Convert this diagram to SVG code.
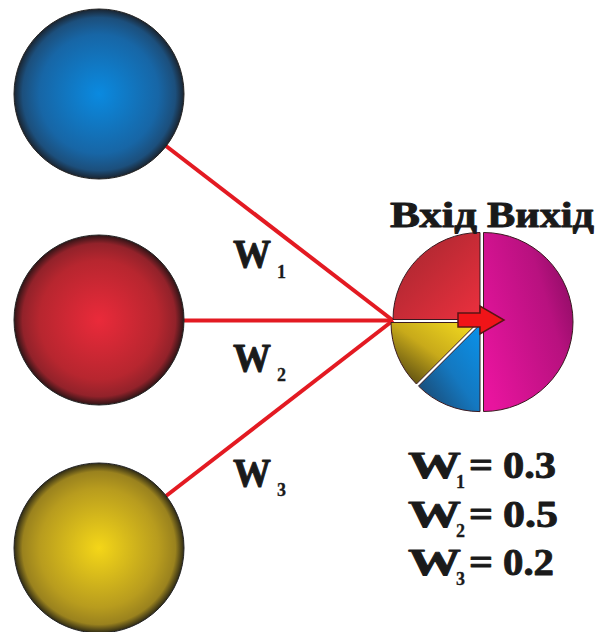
<svg xmlns="http://www.w3.org/2000/svg" width="597" height="632" viewBox="0 0 597 632">
<style>
.conn{stroke:#e31a22;stroke-width:4;fill:none;stroke-linecap:butt}
.ball{stroke:#222;stroke-width:1}
.seg{stroke:#3a1a20;stroke-width:1}
.t{font-family:"Liberation Serif","Times New Roman",serif;font-weight:bold;fill:#1a1a1a;stroke:#1a1a1a;stroke-width:0.9;stroke-linejoin:round}
.sub{font-family:"Liberation Serif","Times New Roman",serif;font-weight:bold;fill:#1a1a1a;font-size:18px;stroke:#1a1a1a;stroke-width:0.3}
</style>
<defs>
<radialGradient id="gBlue" cx="0.5" cy="0.5" r="0.5">
<stop offset="0" stop-color="#0a8ae0"/><stop offset="0.7" stop-color="#1766a6"/><stop offset="0.9" stop-color="#1c4f7c"/><stop offset="1" stop-color="#1a2430"/>
</radialGradient>
<radialGradient id="gRed" cx="0.5" cy="0.5" r="0.5">
<stop offset="0" stop-color="#ea2a3a"/><stop offset="0.7" stop-color="#b7262f"/><stop offset="0.9" stop-color="#92222a"/><stop offset="1" stop-color="#2e1416"/>
</radialGradient>
<radialGradient id="gYel" cx="0.5" cy="0.5" r="0.5">
<stop offset="0" stop-color="#f4d618"/><stop offset="0.7" stop-color="#b89c1e"/><stop offset="0.9" stop-color="#9a821e"/><stop offset="1" stop-color="#2e2a14"/>
</radialGradient>
<linearGradient id="pRed" x1="0" y1="0" x2="1" y2="1">
<stop offset="0" stop-color="#a0262e"/><stop offset="1" stop-color="#ec303e"/>
</linearGradient>
<linearGradient id="pMag" x1="0" y1="0.8" x2="1" y2="0.2">
<stop offset="0" stop-color="#e8149e"/><stop offset="0.7" stop-color="#b8117f"/><stop offset="1" stop-color="#8a0c62"/>
</linearGradient>
<linearGradient id="pYel" x1="1" y1="0" x2="0" y2="1">
<stop offset="0" stop-color="#f6de20"/><stop offset="0.5" stop-color="#c8aa1a"/><stop offset="1" stop-color="#3e3410"/>
</linearGradient>
<linearGradient id="pBlu" x1="1" y1="0" x2="0" y2="1">
<stop offset="0" stop-color="#0a92ea"/><stop offset="0.5" stop-color="#1478c0"/><stop offset="1" stop-color="#1c3f62"/>
</linearGradient>
</defs>

<g id="connectors">
<line class="conn" x1="166" y1="146" x2="393" y2="320.5"/>
<line class="conn" x1="184" y1="320.5" x2="393" y2="320.5"/>
<line class="conn" x1="166" y1="496" x2="393" y2="320.5"/>
</g>

<g id="input1"><circle class="ball" cx="99" cy="94" r="85" fill="url(#gBlue)"/></g>
<g id="input2"><circle class="ball" cx="99" cy="320" r="85" fill="url(#gRed)"/></g>
<g id="input3"><circle class="ball" cx="99" cy="548" r="85" fill="url(#gYel)"/></g>

<g id="labels-left">
<text class="t" x="233" y="267" font-size="41" textLength="38" lengthAdjust="spacingAndGlyphs">W</text>
<text class="sub" x="277" y="278">1</text>
<text class="t" x="233" y="371" font-size="41" textLength="38" lengthAdjust="spacingAndGlyphs">W</text>
<text class="sub" x="277" y="381">2</text>
<text class="t" x="233" y="486" font-size="41" textLength="38" lengthAdjust="spacingAndGlyphs">W</text>
<text class="sub" x="277" y="496">3</text>
</g>

<g id="neuron">
<path class="seg" d="M480,319.5 L393,319.5 A87,87 0 0 1 480,232.5 Z" fill="url(#pRed)"/>
<path class="seg" d="M477.9,322.5 L391,322.5 A87,87 0 0 0 416.4,384 Z" fill="url(#pYel)"/>
<path class="seg" d="M480,324.6 L418.5,386.1 A87,87 0 0 0 480,411.6 Z" fill="url(#pBlu)"/>
<path class="seg" d="M483.5,232.5 A89.5,89.5 0 0 1 483.5,411.5 Z" fill="url(#pMag)"/>
<polygon points="458,313 480,313 480,306 504,320 480,334 480,327 458,327" fill="#f01418" stroke="#5a1414" stroke-width="1.5" stroke-linejoin="miter"/>
</g>

<g id="titles">
<text class="t" x="390" y="227" font-size="36" textLength="87" lengthAdjust="spacingAndGlyphs">Вхід</text>
<text class="t" x="487" y="227" font-size="36" textLength="107" lengthAdjust="spacingAndGlyphs">Вихід</text>
</g>

<g id="weights">
<text class="t" x="408" y="478" font-size="38" textLength="53" lengthAdjust="spacingAndGlyphs">W</text>
<text class="sub" x="456" y="488">1</text>
<text class="t" x="469" y="478" font-size="38" textLength="24" lengthAdjust="spacingAndGlyphs">=</text>
<text class="t" x="503" y="478" font-size="38" textLength="53" lengthAdjust="spacingAndGlyphs">0.3</text>

<text class="t" x="408" y="527" font-size="38" textLength="53" lengthAdjust="spacingAndGlyphs">W</text>
<text class="sub" x="456" y="537">2</text>
<text class="t" x="469" y="527" font-size="38" textLength="24" lengthAdjust="spacingAndGlyphs">=</text>
<text class="t" x="503" y="527" font-size="38" textLength="55" lengthAdjust="spacingAndGlyphs">0.5</text>

<text class="t" x="408" y="575" font-size="38" textLength="53" lengthAdjust="spacingAndGlyphs">W</text>
<text class="sub" x="456" y="585">3</text>
<text class="t" x="469" y="575" font-size="38" textLength="24" lengthAdjust="spacingAndGlyphs">=</text>
<text class="t" x="503" y="575" font-size="38" textLength="51" lengthAdjust="spacingAndGlyphs">0.2</text>
</g>
</svg>
